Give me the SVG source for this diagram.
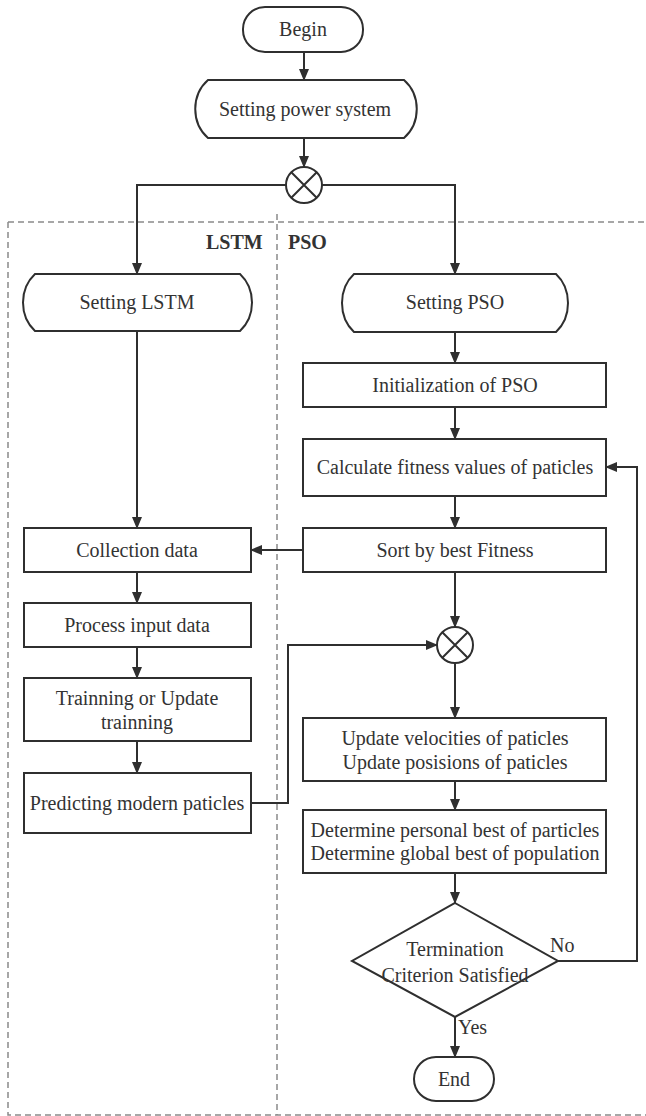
<svg xmlns="http://www.w3.org/2000/svg" width="646" height="1116" viewBox="0 0 646 1116">
<defs>
<marker id="ah" markerWidth="12" markerHeight="10" refX="11" refY="5" orient="auto" markerUnits="userSpaceOnUse">
<path d="M0,0 L12,5 L0,10 Z" fill="#2f2f2f"/>
</marker>
<style>
.n{fill:#fff;stroke:#2f2f2f;stroke-width:2}
.t{font-family:"Liberation Serif","Times New Roman",serif;font-size:20px;fill:#333;text-anchor:middle}
.b{font-family:"Liberation Serif","Times New Roman",serif;font-size:20px;font-weight:bold;fill:#333}
.c{fill:none;stroke:#2f2f2f;stroke-width:2}
.a{fill:none;stroke:#2f2f2f;stroke-width:2;marker-end:url(#ah)}
.d{fill:none;stroke:#8a8a8a;stroke-width:1.5;stroke-dasharray:6 4}
</style>
</defs>
<rect width="646" height="1116" fill="#fff"/>
<g id="regions">
<path class="d" d="M8 222 H646 M8 222 V1115 H646 M277 214 V1115"/>
<text class="b" x="206" y="249">LSTM</text>
<text class="b" x="288" y="249">PSO</text>
</g>
<g id="connectors">
<path class="a" d="M304 52 V80"/>
<path class="a" d="M304 138 V167"/>
<path class="a" d="M286 185 H137 V274"/>
<path class="a" d="M322 185 H455 V274"/>
<path class="a" d="M137 331 V528"/>
<path class="a" d="M455 332 V363"/>
<path class="a" d="M455 407 V439"/>
<path class="a" d="M455 496 V528"/>
<path class="a" d="M303 550 H251"/>
<path class="a" d="M455 572 V627"/>
<path class="a" d="M137 572 V603"/>
<path class="a" d="M137 647 V678"/>
<path class="a" d="M137 741 V773"/>
<path class="a" d="M251 803 H288 V645 H437"/>
<path class="a" d="M455 663 V718"/>
<path class="a" d="M455 781 V810"/>
<path class="a" d="M455 873 V903"/>
<path class="a" d="M455 1017 V1057"/>
<path class="a" d="M558 961 H637 V467 H606"/>
<text class="t" x="458" y="1034" style="text-anchor:start">Yes</text>
<text class="t" x="550" y="952" style="text-anchor:start">No</text>
</g>
<g id="begin">
<rect class="n" x="243" y="7" width="120" height="45" rx="22"/>
<text class="t" x="303" y="36">Begin</text>
</g>
<g id="setting-power-system">
<path class="n" d="M208 80 H404 C421 95 421 123 404 138 H208 C191 123 191 95 208 80 Z"/>
<text class="t" x="305" y="116">Setting power system</text>
</g>
<g id="junction1">
<circle class="n" cx="304" cy="185" r="18"/>
<path class="c" d="M291.3 172.3 L316.7 197.7 M316.7 172.3 L291.3 197.7"/>
</g>
<g id="setting-lstm">
<path class="n" d="M35 274 H240 C256 289 256 316 240 331 H35 C19 316 19 289 35 274 Z"/>
<text class="t" x="137" y="309">Setting LSTM</text>
</g>
<g id="setting-pso">
<path class="n" d="M354 274 H556 C572 289 572 317 556 332 H354 C338 317 338 289 354 274 Z"/>
<text class="t" x="455" y="309">Setting PSO</text>
</g>
<g id="init-pso">
<rect class="n" x="303" y="363" width="303" height="44"/>
<text class="t" x="455" y="392">Initialization of PSO</text>
</g>
<g id="calc-fitness">
<rect class="n" x="303" y="439" width="303" height="57"/>
<text class="t" x="455" y="474">Calculate fitness values of paticles</text>
</g>
<g id="sort-fitness">
<rect class="n" x="303" y="528" width="303" height="44"/>
<text class="t" x="455" y="557">Sort by best Fitness</text>
</g>
<g id="collection-data">
<rect class="n" x="24" y="528" width="227" height="44"/>
<text class="t" x="137" y="557">Collection data</text>
</g>
<g id="process-input">
<rect class="n" x="24" y="603" width="227" height="44"/>
<text class="t" x="137" y="632">Process input data</text>
</g>
<g id="training">
<rect class="n" x="24" y="678" width="227" height="63"/>
<text class="t" x="137" y="705">Trainning or Update</text>
<text class="t" x="137" y="729">trainning</text>
</g>
<g id="predicting">
<rect class="n" x="24" y="773" width="227" height="60"/>
<text class="t" x="137" y="810">Predicting modern paticles</text>
</g>
<g id="junction2">
<circle class="n" cx="455" cy="645" r="18"/>
<path class="c" d="M442.3 632.3 L467.7 657.7 M467.7 632.3 L442.3 657.7"/>
</g>
<g id="update">
<rect class="n" x="303" y="718" width="303" height="63"/>
<text class="t" x="455" y="745">Update velocities of paticles</text>
<text class="t" x="455" y="769">Update posisions of paticles</text>
</g>
<g id="determine">
<rect class="n" x="303" y="810" width="303" height="63"/>
<text class="t" x="455" y="837">Determine personal best of particles</text>
<text class="t" x="455" y="860">Determine global best of population</text>
</g>
<g id="termination">
<path class="n" d="M455 903 L558 961 L455 1017 L352 961 Z"/>
<text class="t" x="455" y="956">Termination</text>
<text class="t" x="455" y="982">Criterion Satisfied</text>
</g>
<g id="end">
<rect class="n" x="414" y="1057" width="80" height="44" rx="22"/>
<text class="t" x="454" y="1086">End</text>
</g>
</svg>
